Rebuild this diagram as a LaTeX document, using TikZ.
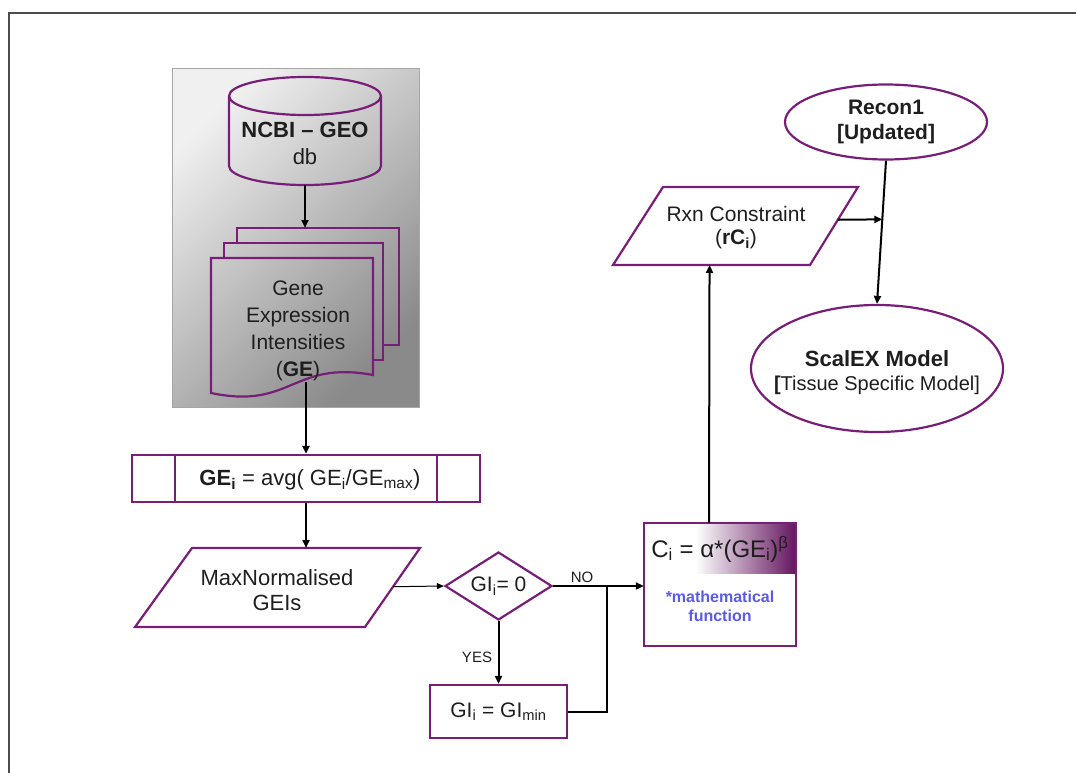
\documentclass[tikz,border=0pt]{standalone}
\usepackage{fontspec}
\setmainfont{Liberation Sans}
\usetikzlibrary{arrows.meta,calc,shapes.geometric}
\definecolor{pborder}{RGB}{120,30,120}
\definecolor{pdark}{RGB}{100,20,95}
\definecolor{mathblue}{RGB}{90,90,235}
\definecolor{ink}{RGB}{30,30,30}
\pgfdeclarehorizontalshading{hdr}{100bp}{color(0bp)=(white); color(25bp)=(white); color(42bp)=(white); color(75bp)=(pdark); color(100bp)=(pdark)}
\tikzset{
  pb/.style={draw=pborder, line width=2.2pt},
  txt/.style={font=\fontsize{21}{27}\selectfont, align=center, inner sep=0pt, text=ink},
  lbl/.style={font=\fontsize{15}{17}\selectfont, inner sep=0pt, text=ink},
  wire/.style={line width=2pt, draw=black},
  conn/.style={wire, -{Triangle[length=8pt,width=7pt]}},
  thinconn/.style={line width=1pt, draw=black, -{Triangle[length=7pt,width=6pt]}},
  frame/.style={draw=black!70, line width=1.2pt},
}
\begin{document}
\begin{tikzpicture}[x=1pt,y=-1pt]
\useasboundingbox (0,0) rectangle (1076,773);
\draw[frame] (9,773) -- (9,13) -- (1076,13);

% grey panel
\shade[top color=black!6, bottom color=black!46, shading angle=45, draw=black!35, line width=1pt] (172,69) rectangle (419,407);

% cylinder
\draw[pb] (229,96) -- (229,166) arc[start angle=180,end angle=360,x radius=76pt,y radius=19pt] -- (381,96);
\draw[pb] (305,96) ellipse[x radius=76pt,y radius=19pt];
\node[txt, font=\fontsize{22}{27}\selectfont] (cyl) at (305,143) {\textbf{NCBI – GEO}\\db};
\coordinate (cylb) at (305,185);

% document stack
\draw[pb] (237,243) -- (237,228) -- (399,228) -- (399,345) -- (383,345);
\draw[pb] (224,258) -- (224,243) -- (383,243) -- (383,360) -- (373,360);
\draw[pb] (211,258) -- (373,258) -- (373,375) .. controls (292,360) and (292,410) .. (211,393) -- cycle;
\node[txt] (doc) at (298,331) {Gene\\Expression\\Intensities\\(\textbf{GE})};
\coordinate (doctop) at (305,228);
\coordinate (docb) at (306,382);

% process box
\node[pb, minimum width=348pt, minimum height=47pt, inner sep=0pt] (proc) at (306,478.5) {};
\draw[pb] ([xshift=44pt]proc.north west) -- ([xshift=44pt]proc.south west);
\draw[pb] ([xshift=-44pt]proc.north east) -- ([xshift=-44pt]proc.south east);
\node[txt, font=\fontsize{22}{26}\selectfont] (proct) at (310,480) {\textbf{GE\textsubscript{i}} = avg( GE\textsubscript{i}/GE\textsubscript{max})};

% MaxNormalised parallelogram
\draw[pb] (192,548) coordinate (mntl) -- (420,548) coordinate (mntr) -- (365,627) coordinate (mnbr) -- (135,627) coordinate (mnbl) -- cycle;
\node[txt, font=\fontsize{22}{25}\selectfont] (mn) at (277,590) {MaxNormalised\\GEIs};
\coordinate (mnr) at ($(mntr)!0.49!(mnbr)$);
\coordinate (mnt) at ($(mntl)!0.5!(mntr)$);

% decision
\node[pb, diamond, minimum width=107pt, minimum height=68pt, inner sep=0pt] (dia) at (498.5,586) {};
\node[txt] (diat) at (dia) {GI\textsubscript{i}= 0};

% GI min box
\node[pb, minimum width=137pt, minimum height=53pt, inner sep=0pt, txt] (gm) at (498.5,711.5) {GI\textsubscript{i} = GI\textsubscript{min}};

% function box
\path node[minimum width=152pt, minimum height=123pt, inner sep=0pt] (cb) at (720,584.5) {};
\shade[shading=hdr] (cb.north west) rectangle ($(cb.north east)+(0,51)$);
\draw[pb] (cb.north west) rectangle (cb.south east);
\node[txt, font=\fontsize{24}{28}\selectfont] (cf) at (720,549) {C\textsubscript{i} = α*(GE\textsubscript{i})\textsuperscript{β}};
\node[txt, font=\bfseries\fontsize{16}{19}\selectfont, text=mathblue] (mf) at (720,606) {*mathematical\\function};

% Rxn constraint parallelogram
\draw[pb] (663,187) coordinate (rxtl) -- (858,187) coordinate (rxtr) -- (810,265) coordinate (rxbr) -- (613,265) coordinate (rxbl) -- cycle;
\node[txt, font=\fontsize{21}{23}\selectfont] (rx) at (736,228) {Rxn Constraint\\(\textbf{rC\textsubscript{i}})};
\coordinate (rxbot) at ($(rxbl)!0.49!(rxbr)$);
\coordinate (rxr) at ($(rxtr)!0.42!(rxbr)$);

% Recon1 and ScalEX
\node[pb, ellipse, minimum width=202pt, minimum height=75pt, inner sep=0pt] (rec) at (886,122) {};
\node[txt, font=\bfseries\fontsize{21}{25}\selectfont] (rect) at (rec) {Recon1\\{[Updated]}};
\node[pb, ellipse, minimum width=252pt, minimum height=127pt, inner sep=0pt] (sc) at (877,368.5) {};
\node[txt, font=\fontsize{20}{24}\selectfont] (sct) at (877,373) {{\bfseries\fontsize{22}{24}\selectfont ScalEX Model}\\{\textbf{[}Tissue Specific Model]}};
\coordinate (jr) at ($(rec.south)!0.41!(sc.north)$);

% connectors
\draw[conn] (cylb) -- (doctop);
\draw[conn] (docb) -- (proc.north);
\draw[conn] (proc.south) -- (mnt);
\draw[thinconn] (mnr) -- (dia.west);
\coordinate (jn) at (607,586);
\draw[wire] (dia.east) -- (jn);
\draw[conn] (jn) -- (jn -| cb.west);
\node[lbl] (no) at (582,577) {NO};
\draw[conn] (dia.south) -- (gm.north);
\node[lbl] (yes) at (477,657) {YES};
\draw[wire] (gm.east) -| (jn);
\draw[conn] ([xshift=-11pt]cb.north) -- (rxbot);
\draw[conn] (rec.south) -- (sc.north);
\draw[conn] (rxr) -- (jr);
\end{tikzpicture}
\end{document}
